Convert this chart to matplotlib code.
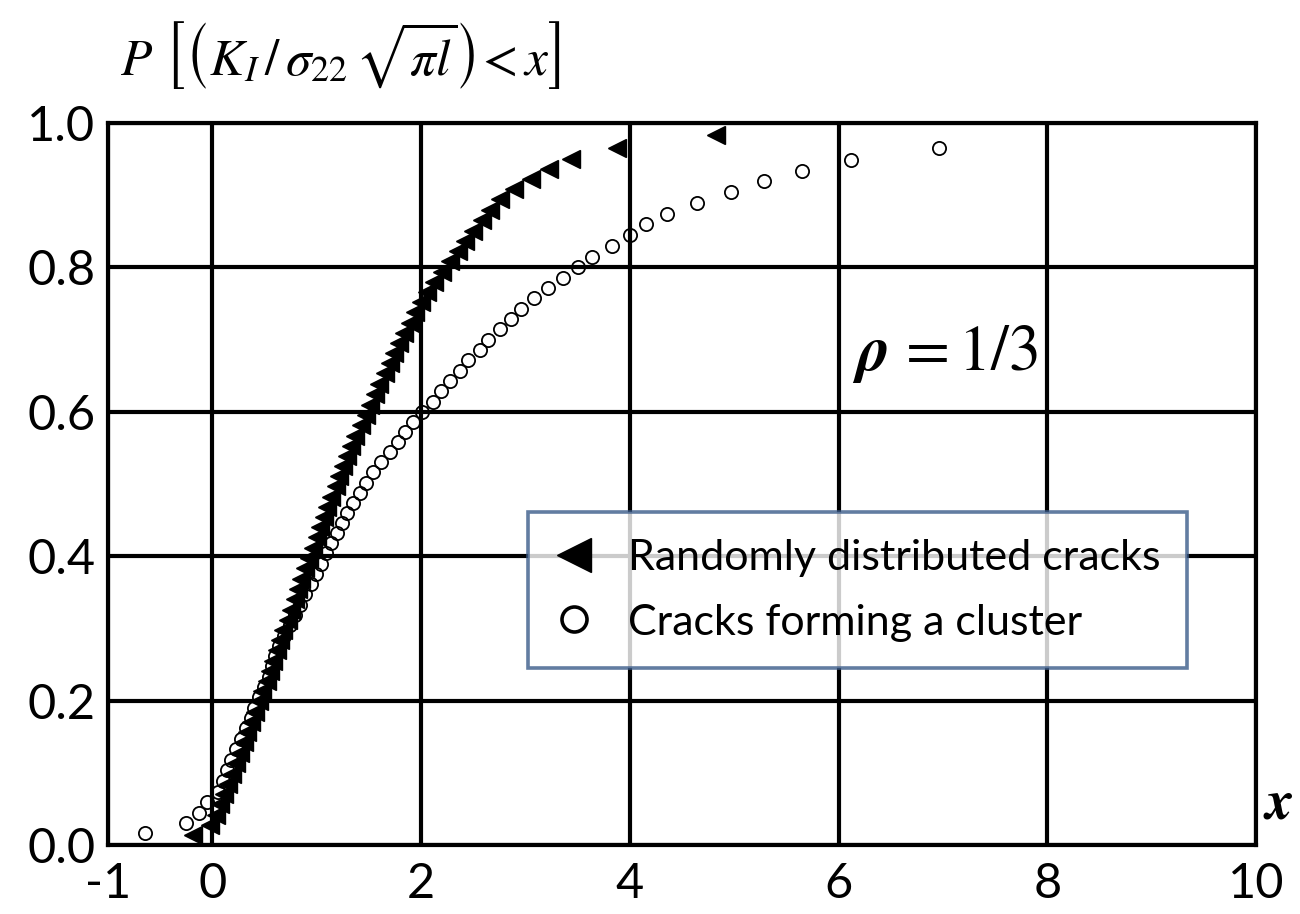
import matplotlib
matplotlib.use('Agg')
import matplotlib.pyplot as plt
from matplotlib.lines import Line2D

matplotlib.rc('mathtext', fontset='stix')

# empirical distribution of the normalised SIF, rho = 1/3
random_x = [-0.19, -0.02, 0.03, 0.07, 0.11, 0.15, 0.19, 0.23, 0.26, 0.30,
            0.33, 0.37, 0.41, 0.45, 0.48, 0.52, 0.55, 0.58, 0.62, 0.65,
            0.68, 0.72, 0.75, 0.79, 0.82, 0.85, 0.89, 0.93, 0.96, 1.00,
            1.03, 1.07, 1.10, 1.14, 1.18, 1.21, 1.25, 1.29, 1.33, 1.37,
            1.42, 1.47, 1.51, 1.56, 1.60, 1.65, 1.70, 1.74, 1.79, 1.84,
            1.89, 1.94, 2.00, 2.06, 2.12, 2.20, 2.28, 2.35, 2.42, 2.50,
            2.58, 2.66, 2.76, 2.89, 3.05, 3.23, 3.44, 3.88, 4.83]
random_p = [0.014, 0.028, 0.042, 0.057, 0.071, 0.085, 0.099, 0.113, 0.128, 0.142,
            0.156, 0.170, 0.184, 0.199, 0.213, 0.227, 0.241, 0.255, 0.270, 0.284,
            0.298, 0.312, 0.326, 0.341, 0.355, 0.369, 0.383, 0.397, 0.411, 0.426,
            0.440, 0.454, 0.468, 0.482, 0.497, 0.511, 0.525, 0.539, 0.553, 0.567,
            0.582, 0.596, 0.610, 0.624, 0.638, 0.653, 0.667, 0.681, 0.695, 0.709,
            0.723, 0.738, 0.752, 0.766, 0.780, 0.794, 0.809, 0.823, 0.837, 0.851,
            0.865, 0.879, 0.894, 0.908, 0.922, 0.936, 0.950, 0.965, 0.983]

cluster_x = [-0.65, -0.25, -0.13, -0.05, 0.05, 0.10, 0.14, 0.18, 0.23, 0.27,
             0.32, 0.37, 0.40, 0.45, 0.49, 0.54, 0.57, 0.60, 0.64, 0.69,
             0.74, 0.79, 0.84, 0.89, 0.94, 0.99, 1.04, 1.09, 1.14, 1.19,
             1.24, 1.29, 1.35, 1.41, 1.47, 1.54, 1.62, 1.70, 1.78, 1.85,
             1.92, 2.01, 2.11, 2.19, 2.28, 2.37, 2.45, 2.56, 2.64, 2.76,
             2.86, 2.96, 3.08, 3.22, 3.36, 3.50, 3.64, 3.83, 4.00, 4.15,
             4.36, 4.64, 4.97, 5.29, 5.65, 6.12, 6.96]
cluster_p = [0.017, 0.031, 0.044, 0.060, 0.073, 0.089, 0.104, 0.118, 0.133, 0.147,
             0.162, 0.176, 0.190, 0.205, 0.219, 0.233, 0.248, 0.262, 0.276, 0.290,
             0.304, 0.318, 0.333, 0.347, 0.361, 0.375, 0.389, 0.404, 0.418, 0.432,
             0.446, 0.460, 0.474, 0.488, 0.502, 0.516, 0.530, 0.544, 0.558, 0.572,
             0.586, 0.600, 0.614, 0.629, 0.643, 0.657, 0.672, 0.686, 0.700, 0.714,
             0.728, 0.743, 0.757, 0.771, 0.785, 0.800, 0.815, 0.830, 0.845, 0.860,
             0.874, 0.889, 0.904, 0.919, 0.934, 0.948, 0.965]

xticks = [-1, 0, 2, 4, 6, 8, 10]
yticks = [0.0, 0.2, 0.4, 0.6, 0.8, 1.0]

tickFont = 'Lato'
lw = 3.0

fig = plt.figure(figsize=(13, 9.14), dpi=100)
ax = fig.add_axes([0.0831, 0.0755, 0.8831, 0.790])

ax.plot(cluster_x, cluster_p, 'o', markersize=9.5, markerfacecolor='none',
        markeredgecolor='black', markeredgewidth=1.3, zorder=5)
ax.plot(random_x, random_p, '<', markersize=13, color='black', zorder=6)

ax.set_xlim(-1, 10)
ax.set_ylim(0, 1)
ax.set_xticks(xticks)
ax.set_yticks(yticks)
ax.set_xticklabels([str(t) for t in xticks], fontfamily=tickFont, fontsize=35)
ax.set_yticklabels(['%.1f' % t for t in yticks], fontfamily=tickFont, fontsize=35)
ax.tick_params(length=0, width=0)
ax.tick_params(axis='x', pad=12)
ax.tick_params(axis='y', pad=9)
ax.grid(True, color='black', linewidth=lw, zorder=1)
ax.set_axisbelow(True)
for s in ax.spines.values():
    s.set_linewidth(lw)
    s.set_zorder(3)

handles = [Line2D([], [], linestyle='none', marker='<', markersize=24, color='black'),
           Line2D([], [], linestyle='none', marker='o', markersize=18, markerfacecolor='none',
                  markeredgecolor='black', markeredgewidth=2.6)]
leg = ax.legend(handles, ['Randomly distributed cracks', 'Cracks forming a cluster'],
                loc='upper left', bbox_to_anchor=(0.366, 0.461), frameon=True, fancybox=False,
                prop={'family': tickFont, 'size': 31}, handlelength=0.9, handletextpad=0.8,
                borderpad=0.62, labelspacing=0.62, borderaxespad=0)
leg.get_frame().set_edgecolor('#3b5c8a')
leg.get_frame().set_linewidth(2.6)
leg.set_zorder(10)

fig.text(0.262, 0.94, r'$P\ \left[\left(K_I\,/\,\sigma_{22}\,\sqrt{\pi l}\right)\!<x\right]$',
         fontsize=37, ha='center', va='center')
ax.text(7.02, 0.68, r'$\mathbfit{\rho}\,=1/3$', fontsize=46, ha='center', va='center')
ax.text(1.006, 0.058, r'$\mathbfit{x}$', fontsize=40, ha='left', va='center',
        transform=ax.transAxes)

fig.savefig('out.png', dpi=100, facecolor='white')
